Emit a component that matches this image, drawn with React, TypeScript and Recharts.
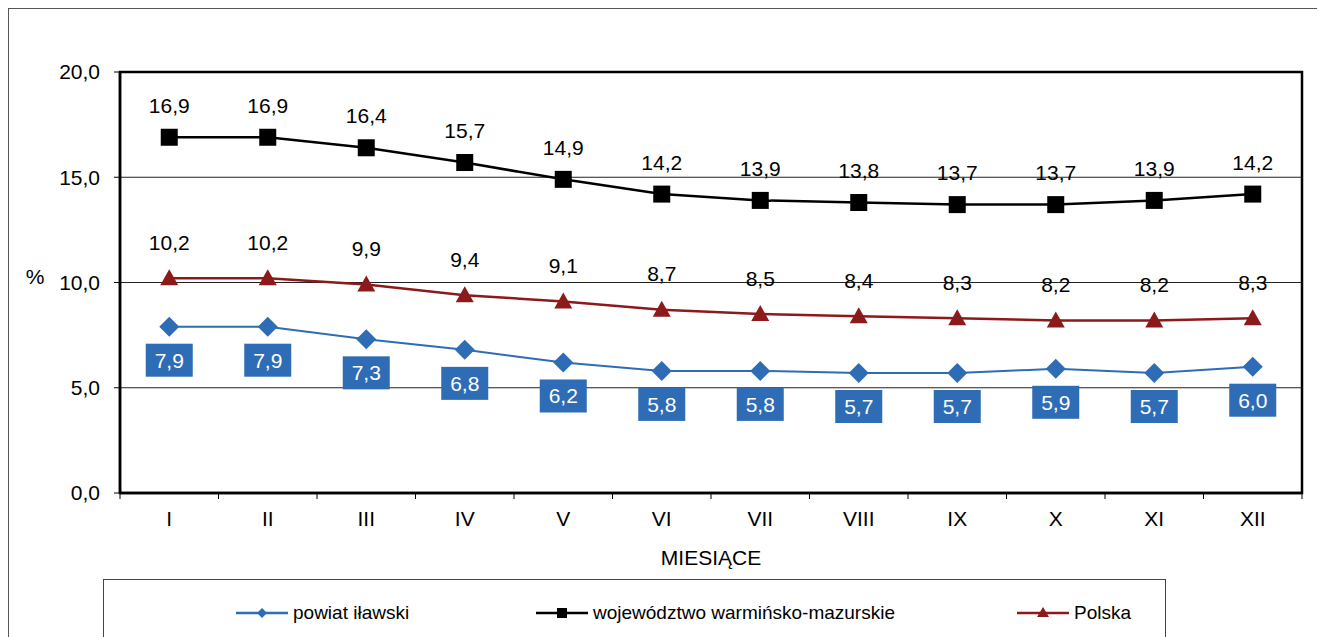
import React from 'react';
import { LineChart, Line, XAxis, YAxis, CartesianGrid, Legend, ReferenceArea } from 'recharts';

const MONTHS = ['I', 'II', 'III', 'IV', 'V', 'VI', 'VII', 'VIII', 'IX', 'X', 'XI', 'XII'];
const POWIAT = [7.9, 7.9, 7.3, 6.8, 6.2, 5.8, 5.8, 5.7, 5.7, 5.9, 5.7, 6.0];
const WOJEWODZTWO = [16.9, 16.9, 16.4, 15.7, 14.9, 14.2, 13.9, 13.8, 13.7, 13.7, 13.9, 14.2];
const POLSKA = [10.2, 10.2, 9.9, 9.4, 9.1, 8.7, 8.5, 8.4, 8.3, 8.2, 8.2, 8.3];
const Y_TICKS = [0, 5, 10, 15, 20];

const BLUE = '#2e6cb5';
const RED = '#8c1a1a';
const FONT = '"Liberation Sans", Arial, sans-serif';

const W = 1306;
const H = 640;
const M = { top: 63, right: 13, left: 0, bottom: 116 };
const Y_AXIS_W = 111;
const X_AXIS_H = 40;
const PLOT_W = W - M.right - Y_AXIS_W;
const STEP = PLOT_W / MONTHS.length;

const data = MONTHS.map((m, i) => ({
    x: i + 0.5,
    month: m,
    powiat: POWIAT[i],
    woj: WOJEWODZTWO[i],
    polska: POLSKA[i],
}));

const fmt = (v: number) => v.toFixed(1).replace('.', ',');

// markers
const SquareDot = (p: any) => (
    <rect key={`sq-${p.index}`} x={p.cx - 8.5} y={p.cy - 8.5} width={17} height={17} fill="#000" />
);
const TriangleDot = (p: any) => (
    <polygon key={`tr-${p.index}`} points={`${p.cx},${p.cy - 9} ${p.cx + 9},${p.cy + 7} ${p.cx - 9},${p.cy + 7}`} fill={RED} />
);
const DiamondDot = (p: any) => (
    <polygon key={`dm-${p.index}`} points={`${p.cx},${p.cy - 10} ${p.cx + 10},${p.cy} ${p.cx},${p.cy + 10} ${p.cx - 10},${p.cy}`} fill={BLUE} />
);

// labels
const aboveLabel = (offset: number) => (p: any) => (
    <text key={`lb-${offset}-${p.index}`} x={p.x} y={p.y - offset} dy={7.5} textAnchor="middle"
        fontSize={21} fontFamily={FONT} fill="#000">{fmt(p.value)}</text>
);
const BoxLabel = (p: any) => (
    <g key={`bx-${p.index}`}>
        <rect x={p.x - 23.5} y={p.y + 17} width={47} height={33} fill={BLUE} />
        <text x={p.x} y={p.y + 33.5} dy={7.5} textAnchor="middle" fontSize={21} fontFamily={FONT} fill="#fff">{fmt(p.value)}</text>
    </g>
);

const XTick = (p: any) => {
    if (p.payload.value >= MONTHS.length) return null;
    return (
        <text x={p.x + STEP / 2} y={p.y + 25} textAnchor="middle" fontSize={21} fontFamily={FONT} fill="#000">
            {MONTHS[p.payload.value]}
        </text>
    );
};

const LegendBox = () => {
    const item = (left: number, color: string, marker: React.ReactNode, text: string) => (
        <div style={{ position: 'absolute', left, top: 20, height: 26, display: 'flex', alignItems: 'center' }}>
            <svg width={52} height={20} style={{ display: 'block' }}>
                <line x1={0} y1={10} x2={52} y2={10} stroke={color} strokeWidth={2.5} />
                {marker}
            </svg>
            <span style={{ marginLeft: 5, fontSize: 19, fontFamily: FONT, color: '#000', whiteSpace: 'nowrap' }}>{text}</span>
        </div>
    );
    return (
        <div style={{ position: 'relative', width: 1063, height: 80, border: '1px solid #444', boxSizing: 'border-box', background: '#fff' }}>
            {item(132, BLUE, <polygon points="26,5 31,10 26,15 21,10" fill={BLUE} />, 'powiat iławski')}
            {item(432, '#000', <rect x={21} y={5} width={10} height={10} fill="#000" />, 'województwo warmińsko-mazurskie')}
            {item(913, RED, <polygon points="26,4 32,14 20,14" fill={RED} />, 'Polska')}
        </div>
    );
};

export default function App() {
    return (
        <div style={{ position: 'fixed', left: 8, top: 8, width: W + 2, height: H, borderTop: '1px solid #555', borderLeft: '1px solid #555', background: '#fff' }}>
            <LineChart width={W} height={H} data={data} margin={M}>
                <CartesianGrid horizontal vertical={false} stroke="#222" strokeWidth={1} />
                <XAxis
                    dataKey="x" type="number" domain={[0, MONTHS.length]}
                    ticks={MONTHS.map((_, i) => i).concat([MONTHS.length])}
                    height={X_AXIS_H} tick={<XTick />} tickSize={6} tickMargin={2}
                    axisLine={{ stroke: '#000', strokeWidth: 2.5 }} tickLine={{ stroke: '#000' }}
                    label={{
                        content: (props: any) => (
                            <text x={props.viewBox.x + props.viewBox.width / 2} y={props.viewBox.y + 71.5}
                                textAnchor="middle" fontSize={21} fontFamily={FONT} fill="#000">MIESIĄCE</text>
                        ),
                    }}
                />
                <YAxis
                    type="number" domain={[0, 20]} ticks={Y_TICKS} width={Y_AXIS_W}
                    tickFormatter={fmt} tickSize={6} tickMargin={14}
                    tick={{ fontSize: 21, fontFamily: FONT, fill: '#000' }}
                    axisLine={{ stroke: '#000', strokeWidth: 2.5 }} tickLine={{ stroke: '#000' }}
                    label={{
                        content: (props: any) => (
                            <text x={26} y={props.viewBox.y + props.viewBox.height / 2 - 6} dy={7.5}
                                textAnchor="middle" fontSize={21} fontFamily={FONT} fill="#000">%</text>
                        ),
                    }}
                />
                <ReferenceArea x1={0} x2={MONTHS.length} y1={0} y2={20} fill="none" stroke="#000" strokeWidth={2.5} ifOverflow="visible" />
                <Line dataKey="woj" stroke="#000" strokeWidth={2.5} dot={SquareDot} activeDot={false}
                    label={aboveLabel(32)} isAnimationActive={false} />
                <Line dataKey="polska" stroke={RED} strokeWidth={2.5} dot={TriangleDot} activeDot={false}
                    label={aboveLabel(36)} isAnimationActive={false} />
                <Line dataKey="powiat" stroke={BLUE} strokeWidth={2} dot={DiamondDot} activeDot={false}
                    label={BoxLabel} isAnimationActive={false} />
                <Legend verticalAlign="middle" layout="horizontal" content={<LegendBox />}
                    wrapperStyle={{ position: 'absolute', left: 94, top: 570, width: 1063, height: 80 }} />
            </LineChart>
        </div>
    );
}
